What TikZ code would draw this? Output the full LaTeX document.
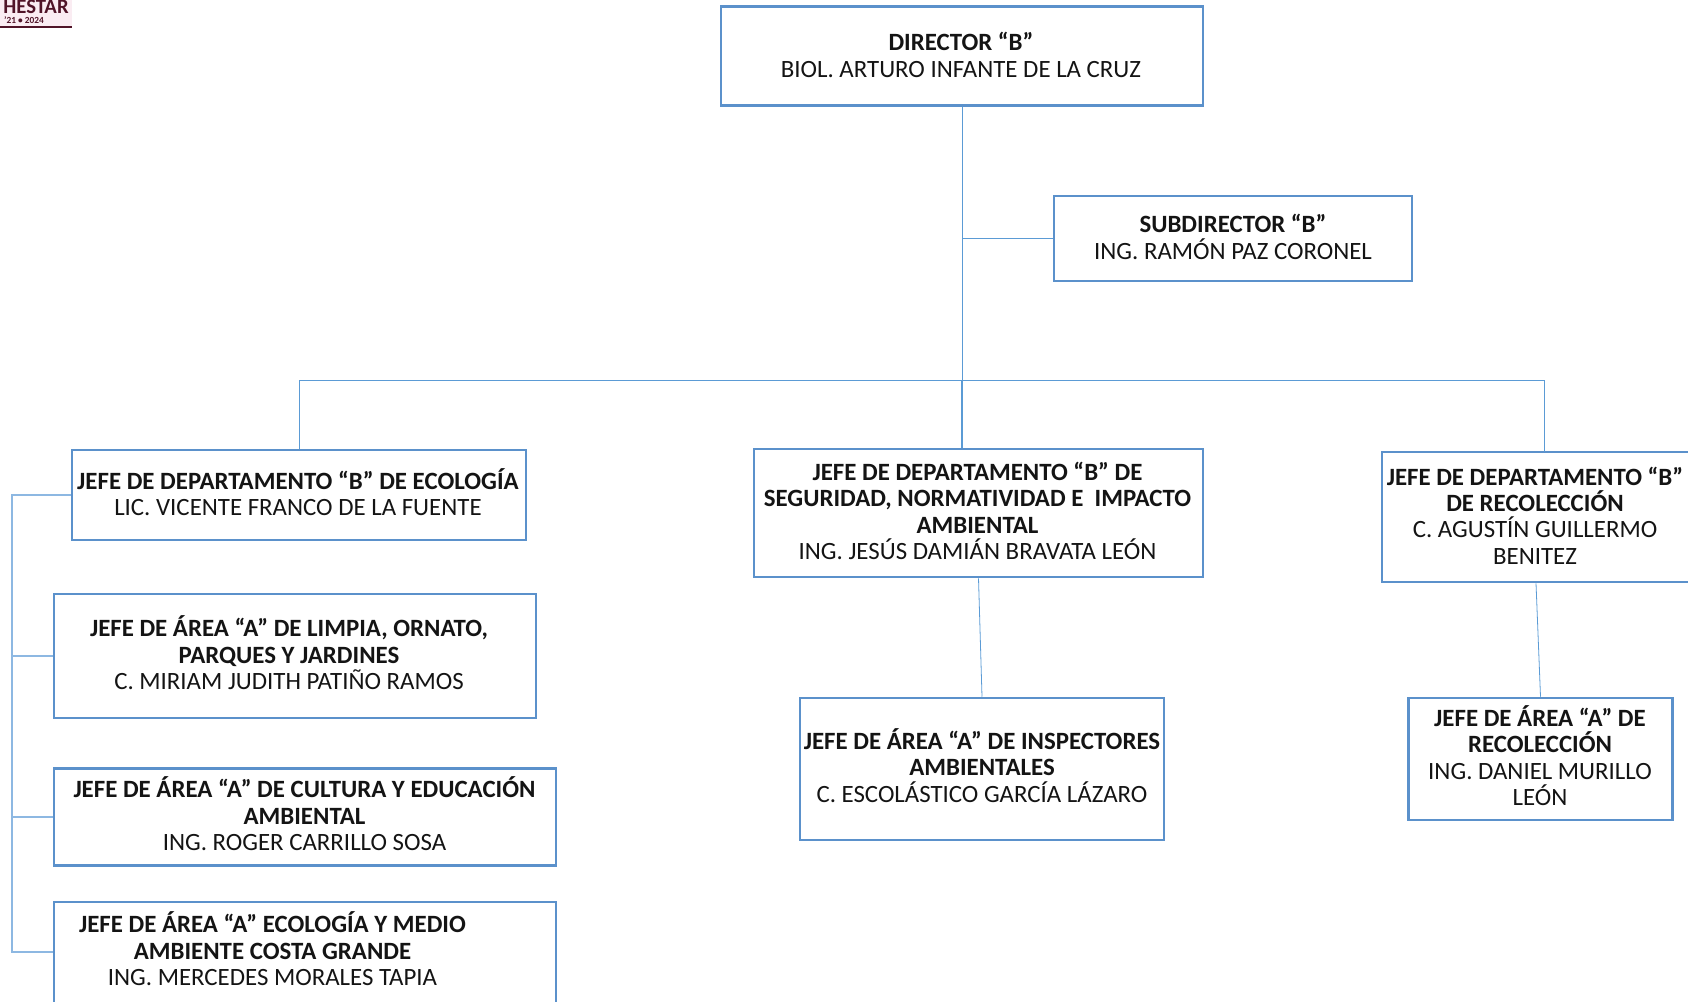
\documentclass[tikz,border=0pt]{standalone}
\usepackage{fontspec}
\setmainfont{Carlito}
\usepackage{tikz}
\definecolor{boxline}{RGB}{91, 145, 203}
\definecolor{wire}{RGB}{91, 155, 213}
\definecolor{sidewire}{RGB}{141, 184, 226}
\definecolor{logored}{RGB}{80, 20, 40}
\definecolor{logopink}{RGB}{250, 236, 242}
\def\txtsize{\fontsize{18.65}{19.8}\selectfont}
\newcommand{\orgnode}[8]{\node[minimum width=#3*0.75pt,minimum height=#4*0.75pt,draw=boxline,line width=1.9pt,fill=white,rectangle,inner sep=0pt] (#5) at (#1,#2) {};
	\node[align=center,inner sep=0pt,font=\txtsize,text=black!92] (#5txt) at (#6,#7) {#8}; }

\begin{document}
\begin{tikzpicture}[x=0.75pt,y=-0.75pt]
\useasboundingbox (0,0) rectangle (1688,1001);
\clip (0,0) rectangle (1688,1001);

\fill[logopink] (0,0) rectangle (72,26);
\node[font=\bfseries\fontsize{15.5}{15.5}\selectfont,text=logored,inner sep=0pt] (logotitle) at (36,7) {HESTAR};
\node[font=\bfseries\fontsize{7}{7}\selectfont,text=logored,inner sep=0pt] (logoyear) at (24,20) {'21 • 2024};
\draw[logored,line width=1.6pt] (0,27) -- (72,27);

\orgnode{962}{56}{482}{99}{director}{961}{55}{\textbf{DIRECTOR “B”}\\BIOL. ARTURO INFANTE DE LA CRUZ}
\orgnode{1233}{238.5}{358}{85}{sub}{1233}{237}{\textbf{SUBDIRECTOR “B”}\\ING. RAMÓN PAZ CORONEL}
\orgnode{299}{495}{454}{90}{ecologia}{298}{492}{\textbf{JEFE DE DEPARTAMENTO “B” DE ECOLOGÍA}\\LIC. VICENTE FRANCO DE LA FUENTE}
\orgnode{295}{656}{482}{124}{limpia}{289}{653}{\textbf{JEFE DE ÁREA “A” DE LIMPIA, ORNATO,}\\\textbf{PARQUES Y JARDINES}\\C. MIRIAM JUDITH PATIÑO RAMOS}
\orgnode{305}{817}{502}{97}{cultura}{304.5}{814}{\textbf{JEFE DE ÁREA “A” DE CULTURA Y EDUCACIÓN}\\\textbf{AMBIENTAL}\\ING. ROGER CARRILLO SOSA}
\orgnode{305}{957}{502}{110}{costa}{272.5}{949}{\textbf{JEFE DE ÁREA “A” ECOLOGÍA Y MEDIO}\\\textbf{AMBIENTE COSTA GRANDE}\\ING. MERCEDES MORALES TAPIA}
\orgnode{978.5}{513}{449}{128}{seguridad}{977.5}{511}{\textbf{JEFE DE DEPARTAMENTO “B” DE}\\\textbf{SEGURIDAD, NORMATIVIDAD E~ IMPACTO}\\\textbf{AMBIENTAL}\\ING. JESÚS DAMIÁN BRAVATA LEÓN}
\orgnode{1536}{517}{308}{130}{recoleccion}{1535}{515.5}{\textbf{JEFE DE DEPARTAMENTO “B”}\\\textbf{DE RECOLECCIÓN}\\C. AGUSTÍN GUILLERMO\\BENITEZ}
\orgnode{982}{769}{364}{142}{inspectores}{982}{765.5}{\textbf{JEFE DE ÁREA “A” DE INSPECTORES}\\\textbf{AMBIENTALES}\\C. ESCOLÁSTICO GARCÍA LÁZARO}
\orgnode{1540.5}{759}{264}{122}{recarea}{1540}{755.5}{\textbf{JEFE DE ÁREA “A” DE}\\\textbf{RECOLECCIÓN}\\ING. DANIEL MURILLO\\LEÓN}

\coordinate (bus) at (962,380);
\coordinate (rectap) at (1544.5,452);
\coordinate (sidebus) at (12,495);
\coordinate (costatap) at (12,952);

\draw[color=wire,line width=0.6pt] (director.south) -- (bus);
\draw[color=wire,line width=0.9pt] (bus) -- (bus |- seguridad.north);
\draw[color=wire,line width=0.6pt] (sub.west) -- (sub.west -| director.south);
\draw[color=wire,line width=0.6pt] (bus) -| (ecologia.north);
\draw[color=wire,line width=0.6pt] (bus) -| (rectap);
\draw[color=wire,line width=0.6pt] (seguridad.south) -- (inspectores.north);
\draw[color=wire,line width=0.6pt] (recoleccion.south) -- (recarea.north);
\draw[color=sidewire,line width=1.1pt] (ecologia.west) -- (sidebus) -- (costatap) -- (costatap -| costa.west);
\draw[color=sidewire,line width=1.1pt] (limpia.west) -- (limpia.west -| sidebus);
\draw[color=sidewire,line width=1.1pt] (cultura.west) -- (cultura.west -| sidebus);
\end{tikzpicture}
\end{document}
